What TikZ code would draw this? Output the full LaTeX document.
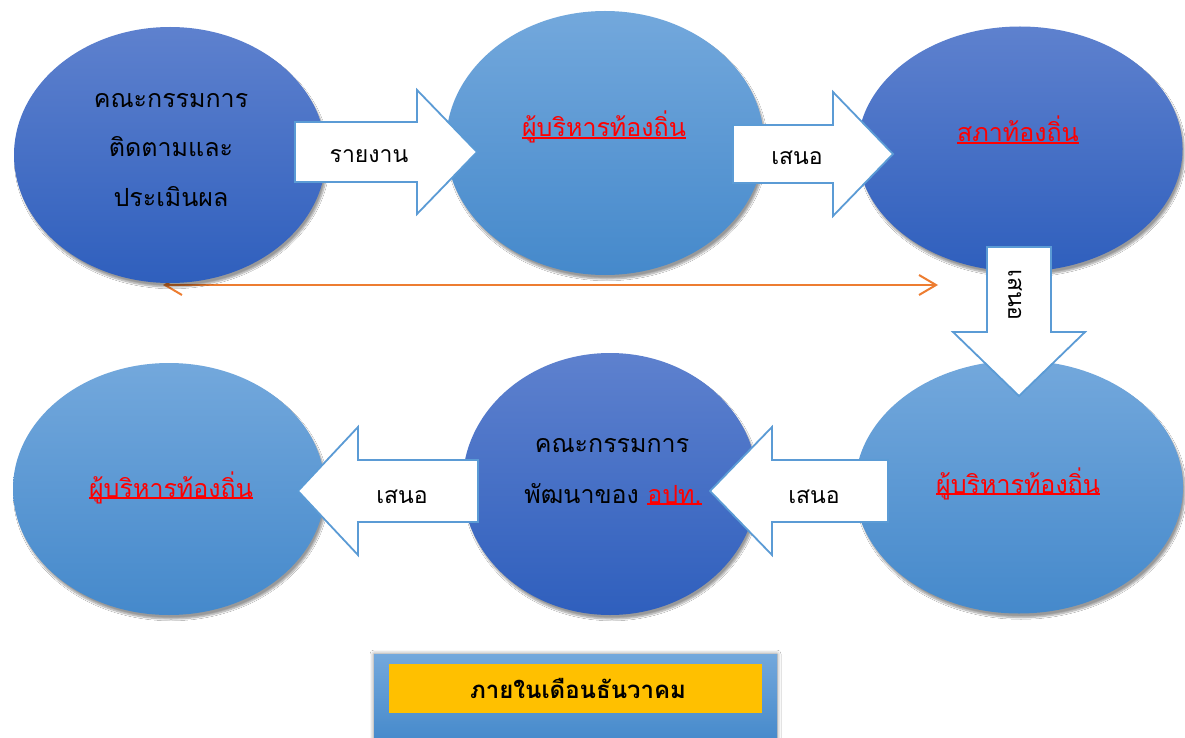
\documentclass[tikz,border=0pt]{standalone}
\usepackage{fontspec}
\newfontfamily\thai[Script=Thai]{Loma}
\usetikzlibrary{shapes.geometric,arrows.meta,shadows.blur}
\definecolor{dkT}{HTML}{5E81CE}
\definecolor{dkB}{HTML}{2F5FBD}
\definecolor{ltT}{HTML}{73A8DC}
\definecolor{ltB}{HTML}{4589CB}
\definecolor{arrline}{HTML}{5B9BD5}
\definecolor{orline}{HTML}{ED7D31}
\definecolor{gold}{HTML}{FFC000}
\newcommand\redul[1]{{\color{red}\setbox0\hbox{#1}\rlap{\rule[-1.6pt]{\wd0}{1.5pt}}\box0}}
\begin{document}
\begin{tikzpicture}[x=1pt,y=-1pt,
  ell/.style={ellipse, draw=none, inner sep=0pt,
    blur shadow={shadow xshift=2pt, shadow yshift=-4pt, shadow blur steps=8, shadow opacity=40}},
  dkell/.style={ell, top color=dkT, bottom color=dkB},
  ltell/.style={ell, top color=ltT, bottom color=ltB},
  blockarr/.style={draw=arrline, fill=white, line width=1.8pt, line join=miter},
  big/.style={font=\thai\fontsize{25}{29}\selectfont, inner sep=0pt, anchor=base},
  small/.style={font=\thai\fontsize{23}{27}\selectfont, inner sep=0pt, anchor=base},
  conn/.style={draw=orline, line width=2pt, {Straight Barb[length=17pt,width=20pt]}-{Straight Barb[length=17pt,width=20pt]}}
]
\useasboundingbox (0,0) rectangle (1185,738);
\fill[white] (0,0) rectangle (1185,738);

% orange connector (drawn first, left tip hidden behind ellipse)
\coordinate (oL) at (163,285);
\coordinate (oR) at (938,285);
\draw[conn] (oL) -- (oR);

% ellipses
\node[dkell, minimum width=312pt, minimum height=256pt] (tl) at (170,155) {};
\node[ltell, minimum width=318pt, minimum height=264pt] (tm) at (605,143) {};
\node[dkell, minimum width=325pt, minimum height=245pt] (tr) at (1020,149) {};
\node[ltell, minimum width=328pt, minimum height=253pt] (br) at (1019,487) {};
\node[dkell, minimum width=295pt, minimum height=262pt] (bm) at (610,484) {};
\node[ltell, minimum width=312pt, minimum height=252pt] (bl) at (169,489) {};

% block arrows
\draw[blockarr] (295,122) -- (417,122) -- (417,90) -- (477,152) -- (417,214) -- (417,182) -- (295,182) -- cycle;
\draw[blockarr] (733,125) -- (833,125) -- (833,92) -- (893,154) -- (833,216) -- (833,183) -- (733,183) -- cycle;
\draw[blockarr] (987,247) -- (1051,247) -- (1051,332) -- (1085,332) -- (1019,396) -- (953,332) -- (987,332) -- cycle;
\draw[blockarr] (888,460) -- (772,460) -- (772,427) -- (710,491) -- (772,555) -- (772,522) -- (888,522) -- cycle;
\draw[blockarr] (478,460) -- (358,460) -- (358,427) -- (298,491) -- (358,555) -- (358,522) -- (478,522) -- cycle;

% ellipse texts
\node[big] (tl1) at (171,108) {คณะกรรมการ};
\node[big] (tl2) at (171,157) {ติดตามและ};
\node[big] (tl3) at (171,207) {ประเมินผล};
\node[big] (tmt) at (604,137) {\redul{ผู้บริหารท้องถิ่น}};
\node[big] (trt) at (1018,142) {\redul{สภาท้องถิ่น}};
\node[big] (brt) at (1018,493) {\redul{ผู้บริหารท้องถิ่น}};
\node[big] (bm1) at (612,452) {คณะกรรมการ};
\node[big] (bm2) at (613,503) {พัฒนาของ \redul{อปท.}};
\node[big] (blt) at (171,497) {\redul{ผู้บริหารท้องถิ่น}};

% arrow texts
\node[small] (a1) at (369,163) {รายงาน};
\node[small] (a2) at (797,165) {เสนอ};
\node[font=\thai\fontsize{23}{27}\selectfont, inner sep=0pt, rotate=-90] (a3) at (1015,295) {เสนอ};
\node[small] (a4) at (814,503) {เสนอ};
\node[small] (a5) at (402,503) {เสนอ};

% bottom box
\fill[top color=ltT, bottom color=ltB,
  blur shadow={shadow xshift=0pt, shadow yshift=0pt, shadow blur radius=4pt, shadow opacity=50}]
  (374,654) rectangle (777,742);
\fill[gold] (389,664) rectangle (762,713);
\node[font=\thai\bfseries\fontsize{24}{28}\selectfont, inner sep=0pt, anchor=base] (bx) at (578,698) {ภายในเดือนธันวาคม};
\end{tikzpicture}
\end{document}
